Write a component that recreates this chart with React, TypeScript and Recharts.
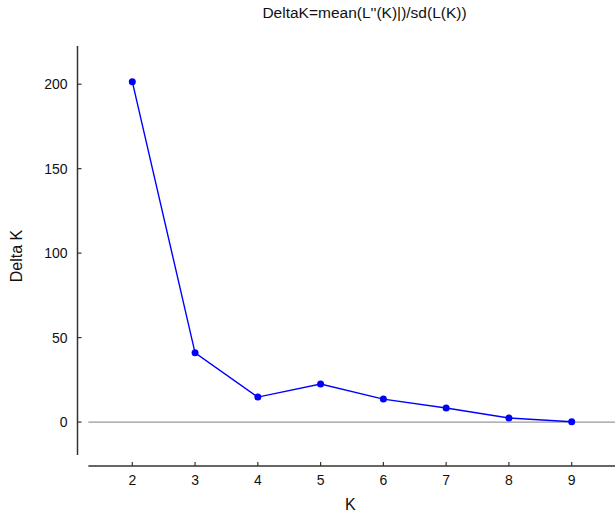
import { LineChart, Line, XAxis, YAxis, ReferenceLine } from 'recharts'

const kValues = [2, 3, 4, 5, 6, 7, 8, 9]
const deltaK = [201.5, 41.0, 14.8, 22.5, 13.6, 8.3, 2.4, 0.2]
const xTicks = [2, 3, 4, 5, 6, 7, 8, 9]
const yTicks = [0, 50, 100, 150, 200]

const data = kValues.map((k, i) => ({ k, deltaK: deltaK[i] }))

const X_MIN = 1.127
const X_MAX = 9.69
const Y_MIN = -26
const Y_MAX = 222.6
const FONT = '"Liberation Sans", Arial, Helvetica, sans-serif'

function YTick(props: any) {
  const { x, y, payload } = props
  return (
    <g>
      <line x1={x} y1={y} x2={x + 4} y2={y} stroke="#333" strokeWidth={1.2} />
      <text x={x - 10} y={y} textAnchor="end" dominantBaseline="central" fontSize={14} fill="#111" fontFamily={FONT}>
        {payload.value}
      </text>
    </g>
  )
}

function XTick(props: any) {
  const { x, y, payload } = props
  return (
    <g>
      <line x1={x} y1={y - 4} x2={x} y2={y} stroke="#333" strokeWidth={1.2} />
      <text x={x} y={y + 19} textAnchor="middle" fontSize={14} fill="#111" fontFamily={FONT}>
        {payload.value}
      </text>
    </g>
  )
}

function XLabel(props: any) {
  const { viewBox } = props
  const cx = viewBox.x + viewBox.width / 2 + 4
  return (
    <text x={cx} y={viewBox.y + viewBox.height - 7} textAnchor="middle" fontSize={16} fill="#111" fontFamily={FONT}>
      K
    </text>
  )
}

export default function App() {
  return (
    <div style={{ position: 'absolute', left: 0, top: 0, width: 615, height: 517, background: '#fff' }}>
      <LineChart width={615} height={517} data={data} margin={{ top: 46, right: 0, bottom: 0, left: 0 }}>
        <XAxis
          dataKey="k"
          type="number"
          domain={[X_MIN, X_MAX]}
          allowDataOverflow
          ticks={xTicks}
          axisLine={false}
          tickLine={false}
          tickSize={0}
          tickMargin={0}
          height={51}
          tick={<XTick />}
          label={<XLabel />}
        />
        <YAxis
          type="number"
          domain={[Y_MIN, Y_MAX]}
          allowDataOverflow
          ticks={yTicks}
          axisLine={false}
          tickLine={false}
          tickSize={0}
          tickMargin={0}
          width={77.5}
          tick={<YTick />}
          label={{ value: 'Delta K', angle: -90, position: 'insideLeft', offset: 16, fontSize: 16, fill: '#111', fontFamily: FONT, style: { textAnchor: 'middle' } }}
        />
        <ReferenceLine
          segment={[{ x: 1.3, y: 0 }, { x: X_MAX, y: 0 }]}
          stroke="#999"
          strokeWidth={1.2}
          ifOverflow="visible"
        />
        <ReferenceLine
          segment={[{ x: 1.3, y: Y_MIN }, { x: X_MAX, y: Y_MIN }]}
          stroke="#333"
          strokeWidth={1.5}
          ifOverflow="visible"
        />
        <ReferenceLine
          segment={[{ x: X_MIN, y: -19.5 }, { x: X_MIN, y: Y_MAX }]}
          stroke="#333"
          strokeWidth={1.5}
          ifOverflow="visible"
        />
        <Line
          type="linear"
          dataKey="deltaK"
          stroke="#0000ff"
          strokeWidth={1.4}
          dot={{ r: 3.5, fill: '#0000ff', stroke: '#0000ff', strokeWidth: 0 }}
          isAnimationActive={false}
        />
        <text x={364.5} y={18} textAnchor="middle" fontSize={15.5} fill="#111" fontFamily={FONT}>
          DeltaK=mean(L''(K)|)/sd(L(K))
        </text>
      </LineChart>
    </div>
  )
}
